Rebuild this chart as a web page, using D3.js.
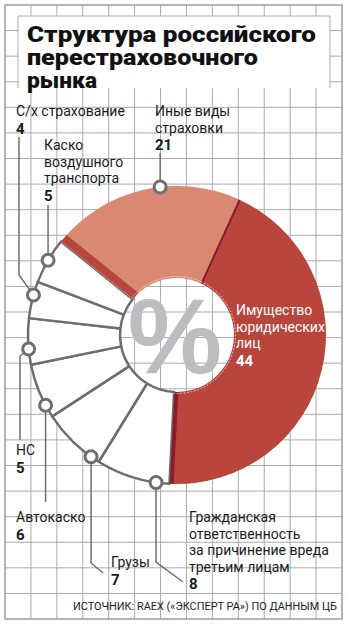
<!DOCTYPE html>
<html><head><meta charset="utf-8">
<script src="https://cdn.jsdelivr.net/npm/d3@7"></script>
<style>
html,body{margin:0;padding:0;background:#fff;}
svg{display:block;}
</style></head><body>
<svg id="chart" width="348" height="625"></svg>
<script>
// Доли сегментов российского рынка перестрахования, %
const categories = [
  "Имущество юридических лиц",
  "Гражданская ответственность за причинение вреда третьим лицам",
  "Грузы",
  "Автокаско",
  "НС",
  "С/х страхование",
  "Каско воздушного транспорта",
  "Иные виды страховки"
];
const values = [44, 8, 7, 6, 5, 4, 5, 21];
const labelLines = [
  ["Имущество", "юридических", "лиц"],
  ["Гражданская", "ответственность", "за причинение вреда", "третьим лицам"],
  ["Грузы"],
  ["Автокаско"],
  ["НС"],
  ["С/х страхование"],
  ["Каско", "воздушного", "транспорта"],
  ["Иные виды", "страховки"]
];
const titleLines = ["Структура российского", "перестраховочного", "рынка"];
const sourceText = "ИСТОЧНИК: RAEX («ЭКСПЕРТ РА») ПО ДАННЫМ ЦБ";

// ---- оформление ----
const W = 348, H = 625;
const cx = 177, cy = 335, rIn = 57, rOut = 149;
const deg = Math.PI / 180;
const GRID = "#a9abae", LINE = "#6d6e71";
const RED = "#b9463d", LIGHT = "#d98872", DARK = "#8c1c2b";
const labelFont = "Roboto, 'Liberation Sans', Arial, sans-serif";

const fill = d3.scaleOrdinal()
  .domain(categories)
  .range([RED, "#fff", "#fff", "#fff", "#fff", "#fff", "#fff", LIGHT]);

const svg = d3.select("#chart");
svg.append("rect").attr("width", W).attr("height", H).attr("fill", "#fff");

// сетка
const x0 = 5, x1 = 342, y0 = 5, y1 = 619;
const cols = 13, rows = 24;
const gx = d3.scaleLinear().domain([0, cols]).range([x0, x1]);
const gy = d3.scaleLinear().domain([0, rows]).range([y0, y1]);
const grid = svg.append("g").attr("stroke", GRID).attr("stroke-width", 1).attr("fill", "none");
grid.selectAll("line.v").data(d3.range(cols + 1)).join("line")
  .attr("x1", d => gx(d)).attr("x2", d => gx(d)).attr("y1", y0).attr("y2", y1);
grid.selectAll("line.h").data(d3.range(rows + 1)).join("line")
  .attr("y1", d => gy(d)).attr("y2", d => gy(d)).attr("x1", x0).attr("x2", x1);
grid.append("rect").attr("x", x0).attr("y", y0).attr("width", x1 - x0).attr("height", y1 - y0)
  .attr("stroke-width", 1.5);

// плашка заголовка
svg.append("rect").attr("x", 18).attr("y", 16).attr("width", 312).attr("height", 72).attr("fill", "#fff");
svg.append("path").attr("d", "M18,88V16H330V88").attr("fill", "none").attr("stroke", GRID).attr("stroke-width", 1);

const titleWidths = [289, 231, 70];
svg.append("g").selectAll("text").data(titleLines).join("text")
  .attr("x", 27).attr("y", (d, i) => 42 + i * 23)
  .attr("font-family", "Roboto, 'Liberation Sans', Arial, sans-serif")
  .attr("font-weight", 900).attr("font-size", 22).attr("fill", "#111")
  .attr("textLength", (d, i) => titleWidths[i]).attr("lengthAdjust", "spacingAndGlyphs")
  .text(d => d);

// кольцевая диаграмма
const pie = d3.pie().sort(null).value(d => d).startAngle(24.5 * deg).endAngle(384.5 * deg);
const arcs = pie(values);
const arc = d3.arc().innerRadius(rIn).outerRadius(rOut);
const ring = svg.append("g").attr("transform", `translate(${cx},${cy})`);

ring.selectAll("path.slice").data(arcs).join("path")
  .attr("class", "slice")
  .attr("d", arc)
  .attr("fill", (d, i) => fill(categories[i]))
  .attr("stroke", (d, i) => fill(categories[i]) === "#fff" ? LINE : "none")
  .attr("stroke-width", 2.5)
  .attr("stroke-linejoin", "round");

// тонкие полосы по краям цветных секторов
ring.append("clipPath").attr("id", "ringClip")
  .append("path").attr("d", d3.arc().innerRadius(rIn).outerRadius(rOut)({startAngle: 0, endAngle: 2 * Math.PI}));
function edgeBand(theta, offset, width, color) {
  const ux = Math.sin(theta), uy = -Math.cos(theta);
  const vx = Math.cos(theta), vy = Math.sin(theta);
  ring.append("line")
    .attr("clip-path", "url(#ringClip)")
    .attr("x1", (rIn - 4) * ux + offset * vx).attr("y1", (rIn - 4) * uy + offset * vy)
    .attr("x2", (rOut + 4) * ux + offset * vx).attr("y2", (rOut + 4) * uy + offset * vy)
    .attr("stroke", color).attr("stroke-width", width);
}
const big = arcs[0], other = arcs[7];
edgeBand(big.startAngle, 1, 2, DARK);
edgeBand(big.endAngle, -2.2, 4, DARK);
edgeBand(other.startAngle, 4.5, 8, RED);

// светлый пунктир по внутреннему краю цветных секторов
[big, other].forEach(a => {
  ring.append("path")
    .attr("d", d3.arc().innerRadius(rIn + 1.5).outerRadius(rIn + 1.5)({startAngle: a.startAngle, endAngle: a.endAngle}))
    .attr("fill", "none").attr("stroke", "#fff").attr("stroke-opacity", 0.45)
    .attr("stroke-width", 1).attr("stroke-dasharray", "1.5,2");
});

// знак процента в центре
svg.append("text").attr("x", cx - 2).attr("y", 373)
  .attr("text-anchor", "middle")
  .attr("font-family", "'Liberation Sans', Arial, sans-serif")
  .attr("font-weight", 700).attr("font-size", 106).attr("fill", "#bcbdc0")
  .text("%");

// выноски: позиция подписи, место кружка на дуге сектора, излом линии
const callouts = [
  {i: 0, x: 236, y: 315, inside: true},
  {i: 1, x: 189, y: 522, t: 0.18, leader: [[null, 562], [183, 582]]},
  {i: 2, x: 111, y: 567, t: 0.14, leader: [[null, 563], [103, 573]]},
  {i: 3, x: 16, y: 522, t: 0.23, leader: [[null, 502]]},
  {i: 4, x: 16, y: 455, t: 0.34, leader: [[20, 356], [20, 440]]},
  {i: 5, x: 16, y: 116, t: 0.63, leader: [[19, 275], [19, 137]]},
  {i: 6, x: 44, y: 150, t: 0.51, leader: [[null, 205]]},
  {i: 7, x: 155, y: 116, t: 0.59, leader: [[null, 153]]}
];
const lineH = 16.5, valueGap = 17.5;

const leaders = svg.append("g").attr("fill", "none").attr("stroke", LINE).attr("stroke-width", 1.5);
const markers = svg.append("g");
const labels = svg.append("g");

callouts.forEach(c => {
  const a = arcs[c.i];
  const color = c.inside ? "#fff" : "#1a1a1a";
  if (!c.inside) {
    const th = a.startAngle + c.t * (a.endAngle - a.startAngle);
    const px = cx + rOut * Math.sin(th), py = cy - rOut * Math.cos(th);
    const pts = [[px, py]].concat(c.leader.map(p => [p[0] === null ? px : p[0], p[1]]));
    leaders.append("path").attr("d", d3.line()(pts));
    markers.append("circle").attr("cx", px).attr("cy", py).attr("r", 6)
      .attr("fill", "#fff").attr("stroke", LINE).attr("stroke-width", 3);
  }
  const lines = labelLines[c.i];
  // подпись и значение — одним текстовым блоком
  const t = labels.append("text").attr("x", c.x).attr("y", c.y)
    .attr("font-family", labelFont).attr("font-size", 14).attr("fill", color);
  lines.forEach((l, k) => {
    t.append("tspan").attr("x", c.x).attr("y", c.y + k * lineH).text(l);
  });
  t.append("tspan").attr("x", c.x).attr("y", c.y + (lines.length - 1) * lineH + valueGap)
    .attr("font-size", 15).attr("font-weight", 700).text(values[c.i]);
});

// источник: кегль подбирается по ширине строки
const src = svg.append("text").attr("x", 73).attr("y", 610)
  .attr("font-family", labelFont).attr("font-size", 11).attr("fill", "#1a1a1a")
  .text(sourceText);
const srcW = src.node().getComputedTextLength();
src.attr("font-size", 11 * 264 / srcW);
</script>
</body></html>
